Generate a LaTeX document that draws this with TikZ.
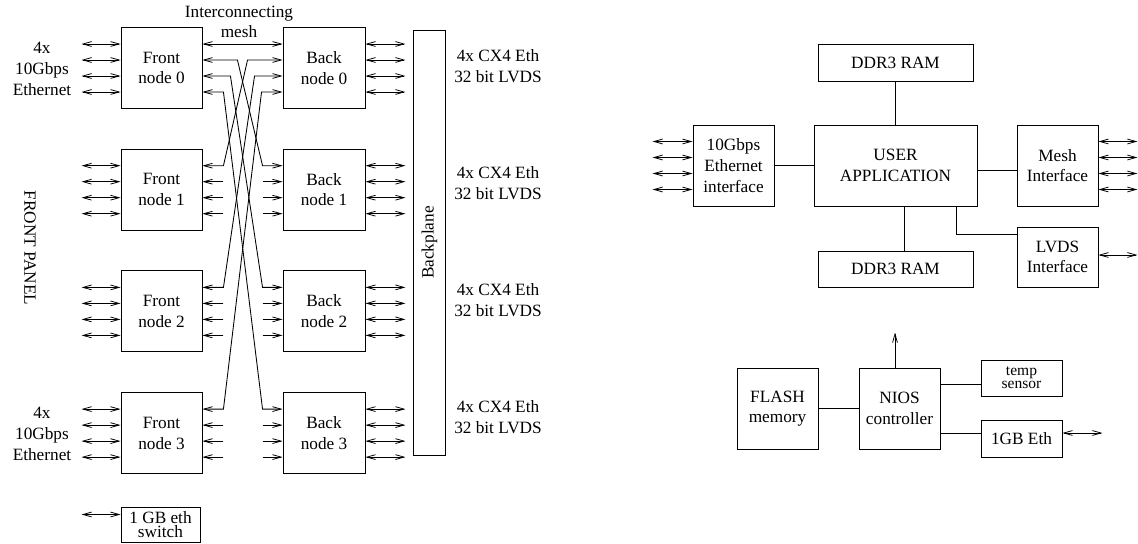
\documentclass[tikz,border=0pt]{standalone}
\usepackage{fontspec}
\setmainfont{Liberation Serif}
\usetikzlibrary{arrows.meta,calc}
\tikzset{
  blk/.style={draw, rectangle, align=center, inner sep=1pt, minimum width=47pt, minimum height=47pt},
  ram/.style={blk, minimum width=89.9pt, minimum height=21.5pt},
  flat/.style={blk, minimum height=21pt},
  txt/.style={align=center, inner sep=0pt},
}
\begin{document}
\begin{tikzpicture}[x=0.58pt, y=-0.58pt, >={Straight Barb[length=5pt,width=2.8pt,line width=0.45pt]}, line width=0.5pt]
\useasboundingbox (0,0) rectangle (1138,544);
% front and back nodes
\foreach \i in {0,...,3}{
  \node[blk] (front\i) at (161.5,{68+121.7*\i}) {Front\\node \i};
  \node[blk, minimum width=47.6pt] (back\i) at (324,{68+121.7*\i}) {Back\\node \i};
}
\node[blk, rotate=90, minimum width=246.5pt, minimum height=18.6pt] (bplane) at (429.5,242.5) {Backplane};
\node[blk, inner sep=0.5pt, minimum width=45.8pt, minimum height=20.3pt] (switch) at (160.5,524.5) {1 GB eth\\[-3.5pt]switch};
\node[txt] (mesh) at (239,22) {Interconnecting\\mesh};
\node[txt] (eth0) at (42,69) {4x\\10Gbps\\Ethernet};
\node[txt] (eth3) at (42,434) {4x\\10Gbps\\Ethernet};
\node[txt, rotate=-90] (panel) at (30,248) {FRONT PANEL};
\foreach \i/\y in {0/66,1/183,2/300,3/417}
  \node[txt] (cx\i) at (498,\y) {4x CX4 Eth\\32 bit LVDS};
% external links
\foreach \i in {0,...,3}
  \foreach \d in {-24,-8,8,24}{
    \draw[<->] ($(front\i.west)+(0,\d)$) -- ++(-39,0);
    \draw[<->] ($(back\i.east)+(0,\d)$) -- ++(40,0);
  }
\draw[<->] ($(switch.west)+(0,-10)$) -- ++(-39,0);
% unused mesh ports
\foreach \i in {1,2,3}
  \foreach \d in {-8,8,24}{
    \draw[->] ($(front\i.east)+(21,\d)$) -- ($(front\i.east)+(0,\d)$);
    \draw[->] ($(back\i.west)+(-20,\d)$) -- ($(back\i.west)+(0,\d)$);
  }
% mesh
\draw[<->] ($(front0.east)+(0,-24)$) -- ($(back0.west)+(0,-24)$);
\foreach \k/\d/\s in {1/-8/35, 2/8/28, 3/24/21}{
  \draw[<->] ($(front0.east)+(0,\d)$) -- ++(\s,0) -- ($(back\k.west)+(-20,-24)$) -- ($(back\k.west)+(0,-24)$);
  \draw[<->] ($(back0.west)+(0,\d)$) -- ++(-\s,0) -- ($(front\k.east)+(21,-24)$) -- ($(front\k.east)+(0,-24)$);
}

% FPGA blocks
\node[ram] (ddrtop) at (895.5,62.5) {DDR3 RAM};
\node[blk, minimum width=94.5pt] (user) at (895.5,165.5) {USER\\APPLICATION};
\node[blk] (ethif) at (733.5,165.5) {10Gbps\\Ethernet\\interface};
\node[blk] (meshif) at (1057.5,165.5) {Mesh\\Interface};
\node[ram, minimum height=20.9pt] (ddrbot) at (895.5,269) {DDR3 RAM};
\node[blk, minimum height=34.8pt] (lvds) at (1057.5,257) {LVDS\\Interface};
\node[blk] (flash) at (777.5,408.5) {FLASH\\memory};
\node[blk] (nios) at (899.5,408.5) {NIOS\\controller};
\node[flat, minimum height=20.9pt] (temp) at (1021.5,378) {\small temp\\[-4.5pt]\small sensor};
\node[flat, minimum height=21.5pt] (gbeth) at (1021.5,438.5) {1GB Eth};
\draw (ddrtop) -- (user);
\draw (ethif) -- (user);
\draw ($(user.east)+(0,4.5)$) -- ($(meshif.west)+(0,4.5)$);
\draw ($(user.south)+(8.5,0)$) -- ($(ddrbot.north)+(8.5,0)$);
\draw ($(user.south)+(60.5,0)$) |- ($(lvds.west)+(0,-23)$);
\foreach \d in {-24,-8,8,24}{
  \draw[<->] ($(ethif.west)+(0,\d)$) -- ++(-40,0);
  \draw[<->] ($(meshif.east)+(0,\d)$) -- ++(39,0);
}
\draw[<->] ($(lvds.east)+(0,-2)$) -- ++(39,0);
\draw (flash) -- (nios);
\draw[->] ($(nios.north)+(-4.5,0)$) -- ++(0,-35);
\path ($(temp.west)+(0,6)$) coordinate (tp);
\path ($(gbeth.west)+(0,-5.5)$) coordinate (gp);
\draw (tp) -- (tp -| nios.east);
\draw (gp) -- (gp -| nios.east);
\draw[<->] ($(gbeth.east)+(0,-5.5)$) -- ++(40,0);
\end{tikzpicture}
\end{document}
